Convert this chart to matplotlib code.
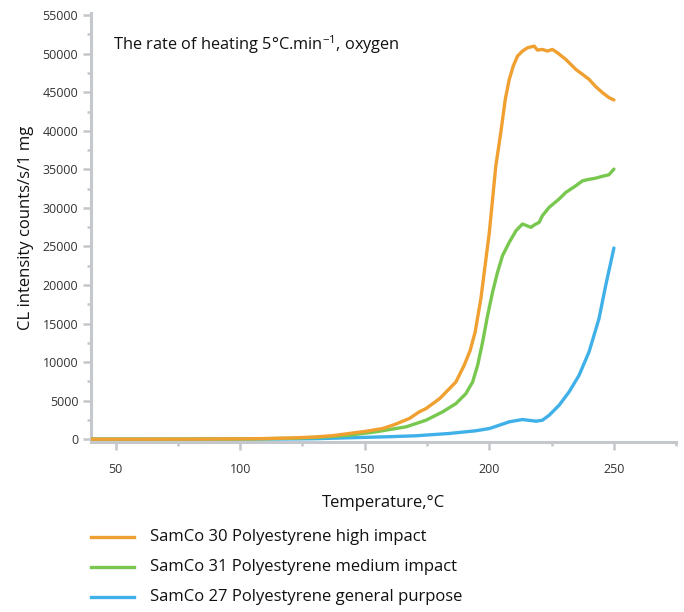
import matplotlib
matplotlib.use("Agg")
import matplotlib.pyplot as plt
from matplotlib.ticker import MultipleLocator
from matplotlib.lines import Line2D

plt.rcParams['font.family'] = ['Open Sans', 'DejaVu Sans']
plt.rcParams['mathtext.fontset'] = 'custom'
plt.rcParams['mathtext.rm'] = 'Open Sans'
plt.rcParams['mathtext.it'] = 'Open Sans'

# ---- data ----
temp_hi = [40, 60, 80, 100, 110, 120, 130, 137, 143.8, 150, 157.2, 162, 167.9, 171.9, 174.6, 180.1, 184,
           186.6, 189.9, 192.3, 194.3, 196.6, 198.3, 200, 201.3, 202.6, 204.6, 206.4, 208, 209.6, 211.3,
           213.3, 215.3, 218.0, 219.3, 221.3, 223.3, 225.3, 227.3, 230.7, 234.7, 237.4, 240, 242.7, 245.4,
           248, 250]
cl_hi = [0, 0, 10, 40, 80, 150, 280, 450, 740, 1000, 1380, 1900, 2680, 3550, 3970, 5270, 6560,
         7430, 9580, 11500, 13900, 18210, 22520, 26840, 31150, 35460, 39780, 44090, 46680, 48400, 49690,
         50340, 50770, 50985, 50470, 50555, 50340, 50555, 50130, 49260, 47970, 47320, 46680, 45730, 44950,
         44310, 44000]

temp_med = [40, 60, 80, 100, 110, 120, 130, 137, 143.8, 154.6, 160, 166.6, 174.6, 181.3, 186.6, 190.6,
            193.3, 195.3, 197.3, 199.3, 201.3, 203.3, 205.3, 208, 210.7, 213.3, 216.7, 218, 220,
            221.3, 224, 228, 230.7, 234.7, 237.4, 240, 242.7, 245.4, 248, 250]
cl_med = [0, 0, 10, 30, 60, 120, 220, 350, 520, 960, 1250, 1600, 2460, 3550, 4620, 5910,
          7430, 9580, 12600, 16050, 19070, 21660, 23810, 25540, 27040, 27910, 27480, 27780, 28130,
          28990, 30070, 31150, 32010, 32870, 33510, 33700, 33860, 34100, 34300, 35030]

temp_gp = [40, 60, 80, 100, 120, 130, 143.8, 160, 170.6, 184, 194.6, 200, 204, 208, 213.3, 218.7,
           221.3, 224, 228, 232, 236, 240, 244, 246.7, 250]
cl_gp = [0, 0, 0, 10, 30, 60, 180, 320, 440, 740, 1090, 1380, 1810, 2250, 2550, 2330,
         2460, 3100, 4400, 6130, 8280, 11310, 15620, 19930, 24800]

labels = ["SamCo 30 Polyestyrene high impact",
          "SamCo 31 Polyestyrene medium impact",
          "SamCo 27 Polyestyrene general purpose"]
colors = ["#f0a030", "#78c850", "#3fb0e8"]

x_ticks = [50, 100, 150, 200, 250]
y_ticks = list(range(0, 55001, 5000))

# ---- figure ----
fig = plt.figure(figsize=(6.84, 6.12), dpi=100)
ax = fig.add_axes([0.1326, 0.278, 0.856, 0.701])

ax.plot(temp_gp, cl_gp, color=colors[2], lw=2.4, solid_capstyle='round', solid_joinstyle='round', zorder=3)
ax.plot(temp_med, cl_med, color=colors[1], lw=2.4, solid_capstyle='round', solid_joinstyle='round', zorder=4)
ax.plot(temp_hi, cl_hi, color=colors[0], lw=2.4, solid_capstyle='round', solid_joinstyle='round', zorder=5)

ax.set_xlim(40, 275)
ax.set_ylim(-350, 55300)
ax.set_xticks(x_ticks)
ax.set_yticks(y_ticks)
ax.xaxis.set_minor_locator(MultipleLocator(25))
ax.yaxis.set_minor_locator(MultipleLocator(2500))

spine_col = "#c4c8cc"
for s in ['top', 'right']:
    ax.spines[s].set_visible(False)
for s in ['left', 'bottom']:
    ax.spines[s].set_color(spine_col)
    ax.spines[s].set_linewidth(2.2)

ax.tick_params(axis='both', which='major', color=spine_col, width=1.8, length=6,
               labelsize=9, labelcolor='#333333', direction='out')
ax.tick_params(axis='both', which='minor', color=spine_col, width=1.8, length=3, direction='out')
ax.tick_params(axis='x', which='major', pad=9)
ax.tick_params(axis='y', which='major', pad=3)

ax.set_xlabel("Temperature,\u00b0C", fontsize=12, color='#111111', labelpad=14)
ax.set_ylabel("CL intensity counts/s/1 mg", fontsize=12, color='#111111', labelpad=6)

fig.text(113 / 684, 1 - 45 / 612, "The rate of heating 5\u00b0C.min$^{-1}$, oxygen",
         fontsize=11.8, color='#111111', va='center', ha='left')

# legend drawn manually in figure coordinates
rows_y = [537, 567, 597]
for lab, c, yy in zip(labels, colors, rows_y):
    yf = 1 - yy / 612
    fig.add_artist(Line2D([91 / 684, 134 / 684], [yf, yf], color=c, lw=2.4,
                          transform=fig.transFigure))
    fig.text(150 / 684, yf, lab, fontsize=12, color='#111111', va='center', ha='left')

fig.savefig("out.png", dpi=100)
